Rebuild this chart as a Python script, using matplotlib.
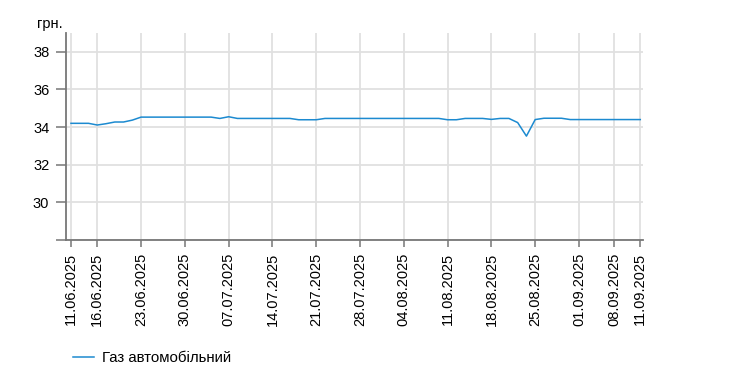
import matplotlib
matplotlib.use('Agg')
import matplotlib.pyplot as plt
import pandas as pd

plt.rcParams['font.family'] = ['Liberation Sans', 'DejaVu Sans']

# working days 11.06.2025 - 11.09.2025 (one day missing in the week of 01.09)
dates = pd.bdate_range('2025-06-11', '2025-09-11')
dates = dates.drop(pd.Timestamp('2025-09-05'))
date_labels = [d.strftime('%d.%m.%Y') for d in dates]

gas_prices = [
    34.20, 34.20, 34.20, 34.11, 34.18, 34.27, 34.27, 34.37, 34.53, 34.53,
    34.53, 34.53, 34.53, 34.53, 34.53, 34.53, 34.53, 34.46, 34.55, 34.46,
    34.46, 34.46, 34.46, 34.46, 34.46, 34.46, 34.39, 34.39, 34.39, 34.46,
    34.46, 34.46, 34.46, 34.46, 34.46, 34.46, 34.46, 34.46, 34.46, 34.46,
    34.46, 34.46, 34.46, 34.39, 34.39, 34.46, 34.46, 34.46, 34.41, 34.46,
    34.46, 34.24, 33.52, 34.40, 34.47, 34.47, 34.47, 34.40, 34.40, 34.40,
    34.40, 34.40, 34.40, 34.40, 34.40, 34.40,
]

tick_labels = ['11.06.2025', '16.06.2025', '23.06.2025', '30.06.2025',
               '07.07.2025', '14.07.2025', '21.07.2025', '28.07.2025',
               '04.08.2025', '11.08.2025', '18.08.2025', '25.08.2025',
               '01.09.2025', '08.09.2025', '11.09.2025']
y_ticks = [28, 30, 32, 34, 36, 38]

x = list(range(len(gas_prices)))
tick_pos = [date_labels.index(t) for t in tick_labels]

fig = plt.figure(figsize=(7.47, 3.87), dpi=100)
ax = fig.add_axes([66 / 747, 147 / 387, 577 / 747, 207 / 387])

ax.plot(x, gas_prices, color='#1c8ad0', linewidth=1.1, label='Газ автомобільний')

ax.set_xlim(-0.57, 65.31)
ax.set_ylim(28, 39)

ax.set_xticks(tick_pos)
ax.set_xticklabels(tick_labels, rotation=90, fontsize=10.5)
ax.set_yticks(y_ticks)
ax.set_yticklabels([''] + [str(v) for v in y_ticks[1:]], fontsize=10.5)

ax.grid(True, color='#e0e0e0', linewidth=1.3)
ax.set_axisbelow(True)

for s in ['top', 'right']:
    ax.spines[s].set_visible(False)
for s in ['left', 'bottom']:
    ax.spines[s].set_color('#777777')
    ax.spines[s].set_linewidth(1.3)
ax.tick_params(axis='both', colors='#777777', labelcolor='black', width=1.1)
ax.tick_params(axis='x', length=5, pad=4)
ax.tick_params(axis='y', length=7, pad=5)

fig.text(63 / 747, 1 - 28 / 387, 'грн.', ha='right', va='baseline', fontsize=10.5)

fig.legend(loc='upper left', bbox_to_anchor=(59 / 747, 1 - 338 / 387), frameon=False,
           fontsize=10.8, handlelength=1.4, handletextpad=0.6)

fig.savefig('out.png', dpi=100)
